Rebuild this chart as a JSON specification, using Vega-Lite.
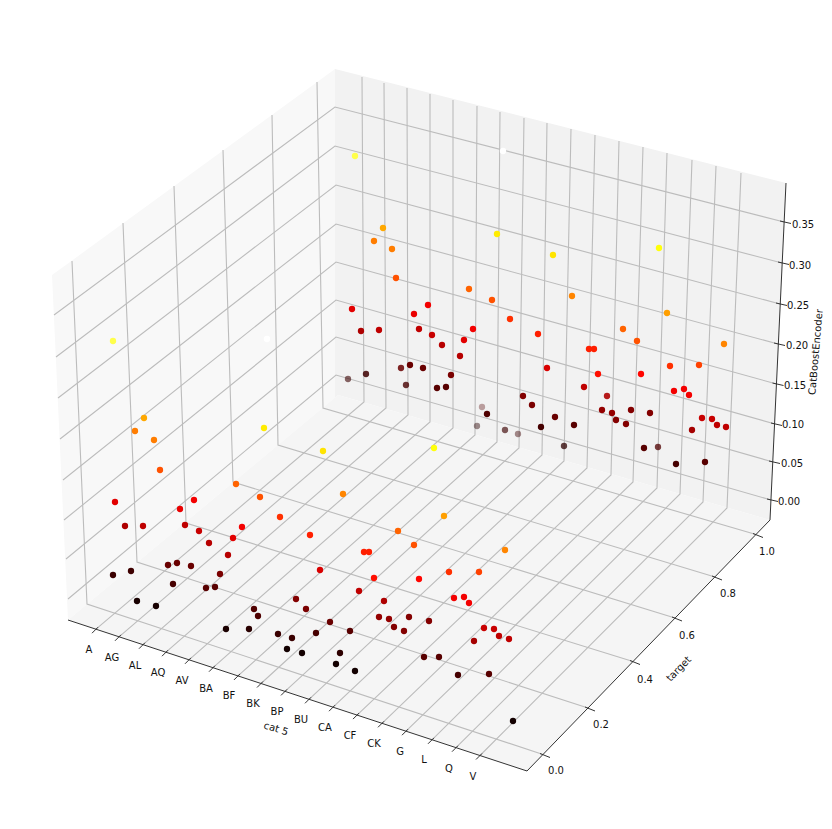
{
  "$schema": "https://vega.github.io/schema/vega-lite/v6.json",
  "width": 832,
  "height": 829,
  "padding": 0,
  "autosize": "none",
  "background": "white",
  "view": {"stroke": null},
  "datasets": {
    "paneLeft": [
      {"sx":52,"sy":275,"sy2":275},{"sx":68,"sy":263.4,"sy2":620},{"sx":335,"sy":69,"sy2":397.5},{"sx":338,"sy":395,"sy2":395}
    ],
    "paneBack": [
      {"sx":335,"sy":69,"sy2":397.5},{"sx":338,"sy":69.8,"sy2":395},{"sx":770,"sy":179,"sy2":520},{"sx":786,"sy":183,"sy2":183}
    ],
    "paneFloor": [
      {"sx":68,"sy":620,"sy2":620},{"sx":338,"sy":395,"sy2":708.5},{"sx":527,"sy":449.7,"sy2":771},{"sx":770,"sy":520,"sy2":520}
    ],
    "grid": [
      {"g":"x0","i":0,"sx":96,"sy":629.2},{"g":"x0","i":1,"sx":364,"sy":402},{"g":"x0","i":2,"sx":362,"sy":77},
      {"g":"x1","i":0,"sx":119,"sy":636.8},{"g":"x1","i":1,"sx":386,"sy":408},{"g":"x1","i":2,"sx":384,"sy":83},
      {"g":"x2","i":0,"sx":143,"sy":644.7},{"g":"x2","i":1,"sx":408,"sy":415},{"g":"x2","i":2,"sx":407,"sy":88},
      {"g":"x3","i":0,"sx":166,"sy":652.2},{"g":"x3","i":1,"sx":430,"sy":422},{"g":"x3","i":2,"sx":430,"sy":94},
      {"g":"x4","i":0,"sx":189,"sy":659.8},{"g":"x4","i":1,"sx":453,"sy":428},{"g":"x4","i":2,"sx":453,"sy":100},
      {"g":"x5","i":0,"sx":213,"sy":667.7},{"g":"x5","i":1,"sx":475,"sy":435},{"g":"x5","i":2,"sx":477,"sy":106},
      {"g":"x6","i":0,"sx":238,"sy":675.9},{"g":"x6","i":1,"sx":497,"sy":442},{"g":"x6","i":2,"sx":500,"sy":112},
      {"g":"x7","i":0,"sx":261,"sy":683.5},{"g":"x7","i":1,"sx":519,"sy":448},{"g":"x7","i":2,"sx":524,"sy":118},
      {"g":"x8","i":0,"sx":285,"sy":691.4},{"g":"x8","i":1,"sx":542,"sy":455},{"g":"x8","i":2,"sx":547,"sy":123},
      {"g":"x9","i":0,"sx":309,"sy":699.3},{"g":"x9","i":1,"sx":564,"sy":461},{"g":"x9","i":2,"sx":571,"sy":129},
      {"g":"x10","i":0,"sx":333,"sy":707.2},{"g":"x10","i":1,"sx":587,"sy":468},{"g":"x10","i":2,"sx":595,"sy":135},
      {"g":"x11","i":0,"sx":357,"sy":715.1},{"g":"x11","i":1,"sx":611,"sy":475},{"g":"x11","i":2,"sx":619,"sy":141},
      {"g":"x12","i":0,"sx":382,"sy":723.3},{"g":"x12","i":1,"sx":633,"sy":482},{"g":"x12","i":2,"sx":643,"sy":147},
      {"g":"x13","i":0,"sx":406,"sy":731.2},{"g":"x13","i":1,"sx":657,"sy":488},{"g":"x13","i":2,"sx":667,"sy":153},
      {"g":"x14","i":0,"sx":432,"sy":739.8},{"g":"x14","i":1,"sx":680,"sy":494},{"g":"x14","i":2,"sx":692,"sy":160},
      {"g":"x15","i":0,"sx":456,"sy":747.7},{"g":"x15","i":1,"sx":703,"sy":502},{"g":"x15","i":2,"sx":716,"sy":166},
      {"g":"x16","i":0,"sx":480,"sy":755.5},{"g":"x16","i":1,"sx":727,"sy":508},{"g":"x16","i":2,"sx":741,"sy":173},
      {"g":"y0","i":0,"sx":543,"sy":754.5},{"g":"y0","i":1,"sx":87,"sy":604},{"g":"y0","i":2,"sx":72,"sy":261},
      {"g":"y1","i":0,"sx":588,"sy":708},{"g":"y1","i":1,"sx":137,"sy":562},{"g":"y1","i":2,"sx":123,"sy":223},
      {"g":"y2","i":0,"sx":633,"sy":661.5},{"g":"y2","i":1,"sx":186,"sy":523},{"g":"y2","i":2,"sx":174,"sy":186},
      {"g":"y3","i":0,"sx":675,"sy":618},{"g":"y3","i":1,"sx":233,"sy":482},{"g":"y3","i":2,"sx":223,"sy":150},
      {"g":"y4","i":0,"sx":715,"sy":577},{"g":"y4","i":1,"sx":278,"sy":445},{"g":"y4","i":2,"sx":272,"sy":115},
      {"g":"y5","i":0,"sx":756,"sy":534.5},{"g":"y5","i":1,"sx":323,"sy":408},{"g":"y5","i":2,"sx":317,"sy":82},
      {"g":"z0","i":0,"sx":68,"sy":599},{"g":"z0","i":1,"sx":336,"sy":375},{"g":"z0","i":2,"sx":771,"sy":500},
      {"g":"z1","i":0,"sx":66,"sy":559},{"g":"z1","i":1,"sx":336,"sy":337},{"g":"z1","i":2,"sx":773,"sy":462},
      {"g":"z2","i":0,"sx":64,"sy":520},{"g":"z2","i":1,"sx":336,"sy":300},{"g":"z2","i":2,"sx":775,"sy":424},
      {"g":"z3","i":0,"sx":63,"sy":480},{"g":"z3","i":1,"sx":336,"sy":262},{"g":"z3","i":2,"sx":776.5,"sy":384},
      {"g":"z4","i":0,"sx":60,"sy":439},{"g":"z4","i":1,"sx":336,"sy":224},{"g":"z4","i":2,"sx":778,"sy":344},
      {"g":"z5","i":0,"sx":58,"sy":398},{"g":"z5","i":1,"sx":336,"sy":185},{"g":"z5","i":2,"sx":780,"sy":304},
      {"g":"z6","i":0,"sx":56,"sy":357},{"g":"z6","i":1,"sx":335,"sy":146},{"g":"z6","i":2,"sx":782,"sy":263},
      {"g":"z7","i":0,"sx":54,"sy":315},{"g":"z7","i":1,"sx":335,"sy":107},{"g":"z7","i":2,"sx":784,"sy":222}
    ],
    "axes": [
      {"g":"ax","i":0,"sx":68,"sy":620},{"g":"ax","i":1,"sx":527,"sy":771},
      {"g":"ay","i":0,"sx":527,"sy":771},{"g":"ay","i":1,"sx":770,"sy":520},
      {"g":"az","i":0,"sx":770,"sy":520},{"g":"az","i":1,"sx":786,"sy":183},
      {"g":"tx0","i":0,"sx":92,"sy":633.2},{"g":"tx0","i":1,"sx":98,"sy":627.2},
      {"g":"tx1","i":0,"sx":115,"sy":640.8},{"g":"tx1","i":1,"sx":121,"sy":634.8},
      {"g":"tx2","i":0,"sx":139,"sy":648.7},{"g":"tx2","i":1,"sx":145,"sy":642.7},
      {"g":"tx3","i":0,"sx":162,"sy":656.2},{"g":"tx3","i":1,"sx":168,"sy":650.2},
      {"g":"tx4","i":0,"sx":185,"sy":663.8},{"g":"tx4","i":1,"sx":191,"sy":657.8},
      {"g":"tx5","i":0,"sx":209,"sy":671.7},{"g":"tx5","i":1,"sx":215,"sy":665.7},
      {"g":"tx6","i":0,"sx":234,"sy":679.9},{"g":"tx6","i":1,"sx":240,"sy":673.9},
      {"g":"tx7","i":0,"sx":257,"sy":687.5},{"g":"tx7","i":1,"sx":263,"sy":681.5},
      {"g":"tx8","i":0,"sx":281,"sy":695.4},{"g":"tx8","i":1,"sx":287,"sy":689.4},
      {"g":"tx9","i":0,"sx":305,"sy":703.3},{"g":"tx9","i":1,"sx":311,"sy":697.3},
      {"g":"tx10","i":0,"sx":329,"sy":711.2},{"g":"tx10","i":1,"sx":335,"sy":705.2},
      {"g":"tx11","i":0,"sx":353,"sy":719.1},{"g":"tx11","i":1,"sx":359,"sy":713.1},
      {"g":"tx12","i":0,"sx":378,"sy":727.3},{"g":"tx12","i":1,"sx":384,"sy":721.3},
      {"g":"tx13","i":0,"sx":402,"sy":735.2},{"g":"tx13","i":1,"sx":408,"sy":729.2},
      {"g":"tx14","i":0,"sx":428,"sy":743.8},{"g":"tx14","i":1,"sx":434,"sy":737.8},
      {"g":"tx15","i":0,"sx":452,"sy":751.7},{"g":"tx15","i":1,"sx":458,"sy":745.7},
      {"g":"tx16","i":0,"sx":476,"sy":759.5},{"g":"tx16","i":1,"sx":482,"sy":753.5},
      {"g":"ty0","i":0,"sx":540,"sy":753.5},{"g":"ty0","i":1,"sx":550,"sy":757.5},
      {"g":"ty1","i":0,"sx":585,"sy":707},{"g":"ty1","i":1,"sx":595,"sy":711},
      {"g":"ty2","i":0,"sx":630,"sy":660.5},{"g":"ty2","i":1,"sx":640,"sy":664.5},
      {"g":"ty3","i":0,"sx":672,"sy":617},{"g":"ty3","i":1,"sx":682,"sy":621},
      {"g":"ty4","i":0,"sx":712,"sy":576},{"g":"ty4","i":1,"sx":722,"sy":580},
      {"g":"ty5","i":0,"sx":753,"sy":533.5},{"g":"ty5","i":1,"sx":763,"sy":537.5},
      {"g":"tz0","i":0,"sx":767,"sy":499},{"g":"tz0","i":1,"sx":778,"sy":501.5},
      {"g":"tz1","i":0,"sx":769,"sy":461},{"g":"tz1","i":1,"sx":780,"sy":463.5},
      {"g":"tz2","i":0,"sx":771,"sy":423},{"g":"tz2","i":1,"sx":782,"sy":425.5},
      {"g":"tz3","i":0,"sx":772.5,"sy":383},{"g":"tz3","i":1,"sx":783.5,"sy":385.5},
      {"g":"tz4","i":0,"sx":774,"sy":343},{"g":"tz4","i":1,"sx":785,"sy":345.5},
      {"g":"tz5","i":0,"sx":776,"sy":303},{"g":"tz5","i":1,"sx":787,"sy":305.5},
      {"g":"tz6","i":0,"sx":778,"sy":262},{"g":"tz6","i":1,"sx":789,"sy":264.5},
      {"g":"tz7","i":0,"sx":780,"sy":221},{"g":"tz7","i":1,"sx":791,"sy":223.5}
    ],
    "tickLabels": [
      {"label":"A","sx":89,"sy":650},{"label":"AG","sx":112,"sy":658},{"label":"AL","sx":135,"sy":666},{"label":"AQ","sx":158,"sy":673},
      {"label":"AV","sx":182,"sy":681},{"label":"BA","sx":206,"sy":689},{"label":"BF","sx":229,"sy":696},{"label":"BK","sx":253,"sy":704},
      {"label":"BP","sx":277,"sy":712},{"label":"BU","sx":301,"sy":720},{"label":"CA","sx":325,"sy":728},{"label":"CF","sx":350,"sy":736},
      {"label":"CK","sx":374,"sy":744},{"label":"G","sx":400,"sy":752},{"label":"L","sx":424,"sy":760},{"label":"Q","sx":449,"sy":769},{"label":"V","sx":473,"sy":777},
      {"label":"0.0","sx":556,"sy":771},{"label":"0.2","sx":601,"sy":725},{"label":"0.4","sx":645,"sy":680},{"label":"0.6","sx":687,"sy":636},{"label":"0.8","sx":728,"sy":594},{"label":"1.0","sx":767,"sy":552},
      {"label":"0.00","sx":789,"sy":502},{"label":"0.05","sx":792,"sy":464},{"label":"0.10","sx":793,"sy":425},{"label":"0.15","sx":795,"sy":386},
      {"label":"0.20","sx":797,"sy":346},{"label":"0.25","sx":798,"sy":306},{"label":"0.30","sx":800,"sy":266},{"label":"0.35","sx":803,"sy":225}
    ],
    "points": [
      {"sx":113,"sy":341,"encoder":0.32,"near":1},{"sx":267,"sy":339,"encoder":0.39,"near":1},{"sx":264,"sy":428,"encoder":0.28,"near":1},
      {"sx":323,"sy":451,"encoder":0.275,"near":1},{"sx":434,"sy":448,"encoder":0.295,"near":1},{"sx":144,"sy":418,"encoder":0.24,"near":1},
      {"sx":135,"sy":431,"encoder":0.215,"near":1},{"sx":154,"sy":440,"encoder":0.215,"near":1},{"sx":160,"sy":470,"encoder":0.19,"near":1},
      {"sx":236,"sy":484,"encoder":0.2,"near":1},{"sx":260,"sy":497,"encoder":0.19,"near":1},{"sx":280,"sy":517,"encoder":0.17,"near":1},
      {"sx":343,"sy":494,"encoder":0.22,"near":1},{"sx":398,"sy":531,"encoder":0.2,"near":1},{"sx":444,"sy":516,"encoder":0.235,"near":1},
      {"sx":414,"sy":545,"encoder":0.19,"near":1},{"sx":505,"sy":550,"encoder":0.22,"near":1},{"sx":364,"sy":552,"encoder":0.16,"near":1},
      {"sx":369,"sy":552,"encoder":0.16,"near":1},{"sx":310,"sy":535,"encoder":0.16,"near":1},{"sx":449,"sy":572,"encoder":0.17,"near":1},
      {"sx":479,"sy":572,"encoder":0.18,"near":1},{"sx":374,"sy":578,"encoder":0.15,"near":1},{"sx":419,"sy":579,"encoder":0.145,"near":1},
      {"sx":115,"sy":502,"encoder":0.125,"near":1},{"sx":180,"sy":509,"encoder":0.13,"near":1},{"sx":194,"sy":500,"encoder":0.135,"near":1},
      {"sx":242,"sy":527,"encoder":0.135,"near":1},{"sx":233,"sy":538,"encoder":0.125,"near":1},{"sx":199,"sy":531,"encoder":0.11,"near":1},
      {"sx":185,"sy":525,"encoder":0.105,"near":1},{"sx":143,"sy":526,"encoder":0.105,"near":1},{"sx":125,"sy":526,"encoder":0.095,"near":1},
      {"sx":209,"sy":543,"encoder":0.1,"near":1},{"sx":228,"sy":555,"encoder":0.1,"near":1},{"sx":320,"sy":570,"encoder":0.12,"near":1},
      {"sx":359,"sy":591,"encoder":0.105,"near":1},{"sx":454,"sy":598,"encoder":0.135,"near":1},{"sx":464,"sy":597,"encoder":0.135,"near":1},
      {"sx":469,"sy":603,"encoder":0.135,"near":1},{"sx":384,"sy":601,"encoder":0.095,"near":1},{"sx":296,"sy":599,"encoder":0.07,"near":1},
      {"sx":306,"sy":609,"encoder":0.065,"near":1},{"sx":330,"sy":622,"encoder":0.055,"near":1},{"sx":379,"sy":617,"encoder":0.08,"near":1},
      {"sx":389,"sy":619,"encoder":0.08,"near":1},{"sx":409,"sy":617,"encoder":0.07,"near":1},{"sx":429,"sy":621,"encoder":0.07,"near":1},
      {"sx":394,"sy":627,"encoder":0.07,"near":1},{"sx":404,"sy":631,"encoder":0.07,"near":1},{"sx":484,"sy":628,"encoder":0.11,"near":1},
      {"sx":494,"sy":629,"encoder":0.11,"near":1},{"sx":499,"sy":636,"encoder":0.105,"near":1},{"sx":509,"sy":639,"encoder":0.105,"near":1},
      {"sx":474,"sy":641,"encoder":0.09,"near":1},{"sx":220,"sy":574,"encoder":0.065,"near":1},{"sx":168,"sy":565,"encoder":0.055,"near":1},
      {"sx":177,"sy":563,"encoder":0.055,"near":1},{"sx":191,"sy":566,"encoder":0.055,"near":1},{"sx":173,"sy":584,"encoder":0.035,"near":1},
      {"sx":206,"sy":588,"encoder":0.045,"near":1},{"sx":215,"sy":587,"encoder":0.045,"near":1},{"sx":113,"sy":575,"encoder":0.028,"near":1},
      {"sx":131,"sy":571,"encoder":0.03,"near":1},{"sx":137,"sy":601,"encoder":0.008,"near":1},{"sx":156,"sy":606,"encoder":0.008,"near":1},
      {"sx":226,"sy":629,"encoder":0.01,"near":1},{"sx":249,"sy":629,"encoder":0.018,"near":1},{"sx":254,"sy":609,"encoder":0.04,"near":1},
      {"sx":258,"sy":616,"encoder":0.04,"near":1},{"sx":278,"sy":634,"encoder":0.028,"near":1},{"sx":292,"sy":638,"encoder":0.028,"near":1},
      {"sx":316,"sy":633,"encoder":0.035,"near":1},{"sx":350,"sy":631,"encoder":0.045,"near":1},{"sx":287,"sy":649,"encoder":0.005,"near":1},
      {"sx":302,"sy":653,"encoder":0.005,"near":1},{"sx":340,"sy":653,"encoder":0.02,"near":1},{"sx":336,"sy":664,"encoder":0.005,"near":1},
      {"sx":355,"sy":671,"encoder":0.005,"near":1},{"sx":424,"sy":657,"encoder":0.045,"near":1},{"sx":439,"sy":657,"encoder":0.045,"near":1},
      {"sx":458,"sy":675,"encoder":0.035,"near":1},{"sx":489,"sy":674,"encoder":0.045,"near":1},{"sx":513,"sy":721,"encoder":0.005,"near":1},
      {"sx":355,"sy":156,"encoder":0.32,"near":1},{"sx":503,"sy":151,"encoder":0.39,"near":1},{"sx":497,"sy":234,"encoder":0.28,"near":1},
      {"sx":553,"sy":255,"encoder":0.275,"near":1},{"sx":659,"sy":248,"encoder":0.295,"near":1},{"sx":383,"sy":228,"encoder":0.24,"near":1},
      {"sx":374,"sy":241,"encoder":0.215,"near":1},{"sx":392,"sy":249,"encoder":0.215,"near":1},{"sx":396,"sy":278,"encoder":0.19,"near":1},
      {"sx":469,"sy":289,"encoder":0.2,"near":1},{"sx":492,"sy":300,"encoder":0.19,"near":1},{"sx":510,"sy":319,"encoder":0.17,"near":1},
      {"sx":572,"sy":296,"encoder":0.22,"near":1},{"sx":623,"sy":329,"encoder":0.2,"near":1},{"sx":667,"sy":313,"encoder":0.235,"near":1},
      {"sx":637,"sy":341,"encoder":0.19,"near":1},{"sx":724,"sy":344,"encoder":0.22,"near":1},{"sx":589,"sy":349,"encoder":0.16,"near":1},
      {"sx":594,"sy":349,"encoder":0.16,"near":1},{"sx":538,"sy":334,"encoder":0.16,"near":1},{"sx":670,"sy":366,"encoder":0.17,"near":1},
      {"sx":699,"sy":365,"encoder":0.18,"near":1},{"sx":598,"sy":374,"encoder":0.15,"near":1},{"sx":641,"sy":374,"encoder":0.145,"near":1},
      {"sx":352,"sy":309,"encoder":0.125,"near":1},{"sx":414,"sy":314,"encoder":0.13,"near":1},{"sx":428,"sy":305,"encoder":0.135,"near":1},
      {"sx":473,"sy":329,"encoder":0.135,"near":1},{"sx":464,"sy":340,"encoder":0.125,"near":1},{"sx":432,"sy":335,"encoder":0.11,"near":1},
      {"sx":419,"sy":329,"encoder":0.105,"near":1},{"sx":379,"sy":330,"encoder":0.105,"near":1},{"sx":361,"sy":331,"encoder":0.095,"near":1},
      {"sx":442,"sy":345,"encoder":0.1,"near":1},{"sx":460,"sy":356,"encoder":0.1,"near":1},{"sx":547,"sy":368,"encoder":0.12,"near":1},
      {"sx":584,"sy":387,"encoder":0.105,"near":1},{"sx":674,"sy":391,"encoder":0.135,"near":1},{"sx":684,"sy":389,"encoder":0.135,"near":1},
      {"sx":689,"sy":395,"encoder":0.135,"near":1},{"sx":607,"sy":396,"encoder":0.095,"near":0.85},{"sx":523,"sy":396,"encoder":0.07,"near":1},
      {"sx":532,"sy":405,"encoder":0.065,"near":1},{"sx":555,"sy":417,"encoder":0.055,"near":1},{"sx":602,"sy":410,"encoder":0.08,"near":1},
      {"sx":612,"sy":413,"encoder":0.08,"near":1},{"sx":631,"sy":410,"encoder":0.07,"near":1},{"sx":650,"sy":413,"encoder":0.07,"near":1},
      {"sx":616,"sy":420,"encoder":0.07,"near":1},{"sx":626,"sy":424,"encoder":0.07,"near":1},{"sx":702,"sy":418,"encoder":0.11,"near":1},
      {"sx":712,"sy":419,"encoder":0.11,"near":1},{"sx":717,"sy":425,"encoder":0.105,"near":1},{"sx":726,"sy":427,"encoder":0.105,"near":1},
      {"sx":692,"sy":430,"encoder":0.09,"near":1},{"sx":451,"sy":375,"encoder":0.065,"near":1},{"sx":401,"sy":368,"encoder":0.055,"near":0.79},
      {"sx":410,"sy":365,"encoder":0.055,"near":1},{"sx":423,"sy":368,"encoder":0.055,"near":1},{"sx":406,"sy":385,"encoder":0.035,"near":0.71},
      {"sx":437,"sy":388,"encoder":0.045,"near":1},{"sx":446,"sy":387,"encoder":0.045,"near":1},{"sx":348,"sy":379,"encoder":0.028,"near":0.43},
      {"sx":366,"sy":374,"encoder":0.03,"near":0.79},{"sx":482,"sy":407,"encoder":0.04,"near":0.07},{"sx":487,"sy":414,"encoder":0.04,"near":1},
      {"sx":477,"sy":426,"encoder":0.018,"near":0.21},{"sx":505,"sy":430,"encoder":0.028,"near":0.5},{"sx":518,"sy":434,"encoder":0.028,"near":0.21},
      {"sx":541,"sy":427,"encoder":0.035,"near":1},{"sx":574,"sy":425,"encoder":0.045,"near":1},{"sx":564,"sy":446,"encoder":0.02,"near":0.64},
      {"sx":644,"sy":448,"encoder":0.045,"near":1},{"sx":658,"sy":447,"encoder":0.04,"near":0.64},{"sx":676,"sy":464,"encoder":0.035,"near":1},
      {"sx":705,"sy":462,"encoder":0.045,"near":1}
    ]
  },
  "encoding": {
    "x": {"field": "sx", "type": "quantitative", "scale": {"domain": [0, 832], "nice": false, "zero": false}, "axis": null},
    "y": {"field": "sy", "type": "quantitative", "scale": {"domain": [829, 0], "nice": false, "zero": false}, "axis": null}
  },
  "layer": [
    {"data": {"name": "paneLeft"}, "mark": {"type": "area", "color": "#f8f8f8"}, "encoding": {"y2": {"field": "sy2"}}},
    {"data": {"name": "paneBack"}, "mark": {"type": "area", "color": "#f2f2f2"}, "encoding": {"y2": {"field": "sy2"}}},
    {"data": {"name": "paneFloor"}, "mark": {"type": "area", "color": "#f5f5f5"}, "encoding": {"y2": {"field": "sy2"}}},
    {
      "data": {"name": "grid"},
      "mark": {"type": "line", "color": "#bcbcbc", "strokeWidth": 1.1},
      "encoding": {"detail": {"field": "g"}, "order": {"field": "i"}}
    },
    {
      "data": {"name": "axes"},
      "mark": {"type": "line", "color": "#333333", "strokeWidth": 1},
      "encoding": {"detail": {"field": "g"}, "order": {"field": "i"}}
    },
    {
      "data": {"name": "tickLabels"},
      "mark": {"type": "text", "font": "DejaVu Sans", "fontSize": 10, "color": "#111111", "align": "center", "baseline": "middle"},
      "encoding": {"text": {"field": "label"}}
    },
    {
      "data": {"values": [{"label": "cat 5", "sx": 276, "sy": 729}]},
      "mark": {"type": "text", "font": "DejaVu Sans", "fontSize": 10, "color": "#111111", "angle": 17, "align": "center", "baseline": "middle"},
      "encoding": {"text": {"field": "label"}}
    },
    {
      "data": {"values": [{"label": "target", "sx": 679, "sy": 669}]},
      "mark": {"type": "text", "font": "DejaVu Sans", "fontSize": 10, "color": "#111111", "angle": -46, "align": "center", "baseline": "middle"},
      "encoding": {"text": {"field": "label"}}
    },
    {
      "data": {"values": [{"label": "CatBoostEncoder", "sx": 816, "sy": 352}]},
      "mark": {"type": "text", "font": "DejaVu Sans", "fontSize": 10, "color": "#111111", "angle": -85, "align": "center", "baseline": "middle"},
      "encoding": {"text": {"field": "label"}}
    },
    {
      "data": {"name": "points"},
      "mark": {"type": "point", "shape": "circle", "filled": true, "size": 40, "strokeWidth": 0},
      "encoding": {
        "color": {
          "field": "encoder",
          "type": "quantitative",
          "scale": {"type": "linear", "interpolate": "rgb", "domain": [0, 0.142, 0.291, 0.39], "range": ["#0a0000", "#ff0000", "#ffff00", "#ffffff"]},
          "legend": null
        },
        "opacity": {"field": "near", "type": "quantitative", "scale": {"domain": [0, 1], "range": [0.3, 1]}, "legend": null}
      }
    }
  ]
}
